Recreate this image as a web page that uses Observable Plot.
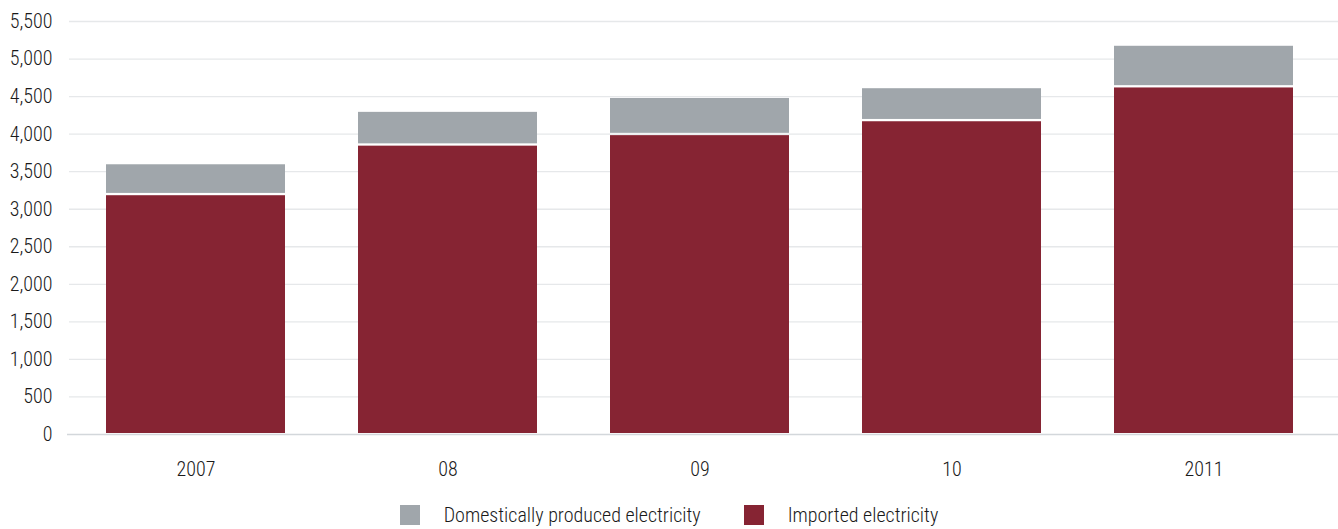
<!DOCTYPE html>
<html>
<head>
<meta charset="utf-8">
<script src="https://cdn.jsdelivr.net/npm/d3@7"></script>
<script src="https://cdn.jsdelivr.net/npm/@observablehq/plot@0.6"></script>
<style>
  html, body { margin: 0; padding: 0; background: #fff; }
  body { width: 1338px; height: 529px; overflow: hidden; font-family: "Roboto Condensed", sans-serif; font-weight: 350; }
  #legend { display: flex; justify-content: center; align-items: center; height: 40px; font-size: 20px; color: #1a1a1a; }
  .item { display: flex; align-items: center; }
  .sw { width: 20px; height: 20px; margin-right: 24px; }
  .item + .item { margin-left: 43px; }
  svg text { font-weight: 350; }
</style>
</head>
<body>
<div id="chart"></div>
<div id="legend"></div>
<script>
const years = ["2007", "08", "09", "10", "2011"];
const imported = [3180, 3840, 3980, 4165, 4615];
const domestic = [412, 450, 495, 440, 555];
const yTicks = [0, 500, 1000, 1500, 2000, 2500, 3000, 3500, 4000, 4500, 5000, 5500];
const seriesNames = ["Domestically produced electricity", "Imported electricity"];
const colors = ["#a0a6ab", "#862433"];

const rows = years.map((y, i) => ({year: y, imported: imported[i], total: imported[i] + domestic[i]}));

const chart = Plot.plot({
  width: 1338,
  height: 495,
  marginLeft: 69,
  marginRight: 0,
  marginTop: 21,
  marginBottom: 61,
  style: {fontFamily: '"Roboto Condensed", sans-serif', fontSize: "20px", color: "#1a1a1a"},
  x: {domain: years, paddingInner: 0.291, paddingOuter: 0.156, align: 0.45, label: null},
  y: {domain: [0, 5500], label: null},
  marks: [
    Plot.ruleY(yTicks.filter(d => d > 0), {stroke: "#e6e8ea", strokeWidth: 1.3}),
    Plot.barY(rows, {x: "year", y1: 0, y2: "imported", fill: colors[1], insetBottom: 1}),
    Plot.barY(rows, {x: "year", y1: "imported", y2: "total", fill: colors[0], insetBottom: 2.3}),
    Plot.ruleY([0], {stroke: "#d3d7db", strokeWidth: 1.6, insetLeft: -2}),
    Plot.axisY({ticks: yTicks, tickSize: 0, tickPadding: 17, tickFormat: d3.format(","), label: null, fill: "#1a1a1a"}),
    Plot.axisX({tickSize: 0, tickPadding: 27, label: null, fill: "#1a1a1a"})
  ]
});
document.getElementById("chart").appendChild(chart);

const legend = document.getElementById("legend");
seriesNames.forEach((name, i) => {
  const item = document.createElement("div");
  item.className = "item";
  const sw = document.createElement("div");
  sw.className = "sw";
  sw.style.background = colors[i];
  const label = document.createElement("span");
  label.textContent = name;
  item.appendChild(sw);
  item.appendChild(label);
  legend.appendChild(item);
});
</script>
</body>
</html>
